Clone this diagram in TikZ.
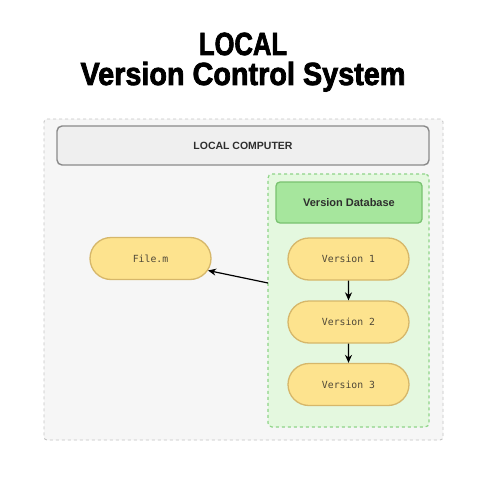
\documentclass[tikz,border=0pt]{standalone}
\usepackage{fontspec}
\setmainfont{Liberation Sans}
\newfontfamily\monofnt{DejaVu Sans Mono}
\newfontfamily\titlefnt[FakeBold=2.5]{Liberation Sans Bold}
\usetikzlibrary{shapes.misc,arrows.meta}
\definecolor{outerfill}{HTML}{F6F6F6}
\definecolor{outerline}{HTML}{C4C4C4}
\definecolor{compfill}{HTML}{EFEFEF}
\definecolor{compline}{HTML}{8A8A8A}
\definecolor{greenfill}{HTML}{E4F8DF}
\definecolor{greenline}{HTML}{8FD488}
\definecolor{dbfill}{HTML}{A6E69D}
\definecolor{dbline}{HTML}{79C270}
\definecolor{yfill}{HTML}{FDE38E}
\definecolor{yline}{HTML}{D6B76A}
\definecolor{ytext}{HTML}{4F4838}
\definecolor{dtext}{HTML}{2E2E2E}
\tikzset{
  titlefont/.style={font=\titlefnt\fontsize{32}{32}\selectfont, anchor=base, inner sep=0},
  filebox/.style={rounded rectangle, draw=yline, fill=yfill, line width=1.3pt,
    minimum width=121pt, minimum height=42pt, inner sep=0,
    font=\monofnt\fontsize{9.8}{10}\selectfont, text=ytext},
  arr/.style={-{Stealth[length=8pt,width=7pt]}, line width=1.2pt, black}
}
\begin{document}
\begin{tikzpicture}[x=1pt,y=-1pt]
\useasboundingbox[fill=white] (0,0) rectangle (500,500);
% title
\node[titlefont, xscale=0.8] (t1) at (243,55) {LOCAL};
\node[titlefont, xscale=0.9] (t2) at (243,85) {Version Control System};
% outer local area
\node[draw=outerline, fill=outerfill, dashed, line width=0.9pt, rounded corners=3pt,
  minimum width=399pt, minimum height=321pt, inner sep=0] (outer) at (243.5,279.5) {};
% local computer header
\node[draw=compline, fill=compfill, line width=1.4pt, rounded corners=5pt,
  minimum width=372pt, minimum height=39pt, inner sep=0, text=dtext,
  font=\fontsize{10.5}{11}\selectfont\bfseries] (comp) at (243,145.5) {LOCAL COMPUTER};
% green container
\node[draw=greenline, fill=greenfill, dashed, line width=1.2pt, rounded corners=4pt,
  minimum width=161pt, minimum height=253pt, inner sep=0] (cont) at (348.5,300.5) {};
\node[draw=dbline, fill=dbfill, line width=1.3pt, rounded corners=4pt,
  minimum width=146pt, minimum height=41pt, inner sep=0, text=dtext,
  font=\fontsize{11}{12}\selectfont\bfseries] (db) at (349,202.5) {Version Database};
% version nodes
\node[filebox] (v1) at (348.5,259) {Version 1};
\node[filebox] (v2) at (348.5,322) {Version 2};
\node[filebox] (v3) at (348.5,384.5) {Version 3};
\node[filebox] (f) at (150.5,258.5) {File.m};
% connectors
\coordinate (s) at (268,283);
\draw[arr] (s) -- (f);
\draw[arr] (v1) -- (v2);
\draw[arr] (v2) -- (v3);
\end{tikzpicture}
\end{document}
